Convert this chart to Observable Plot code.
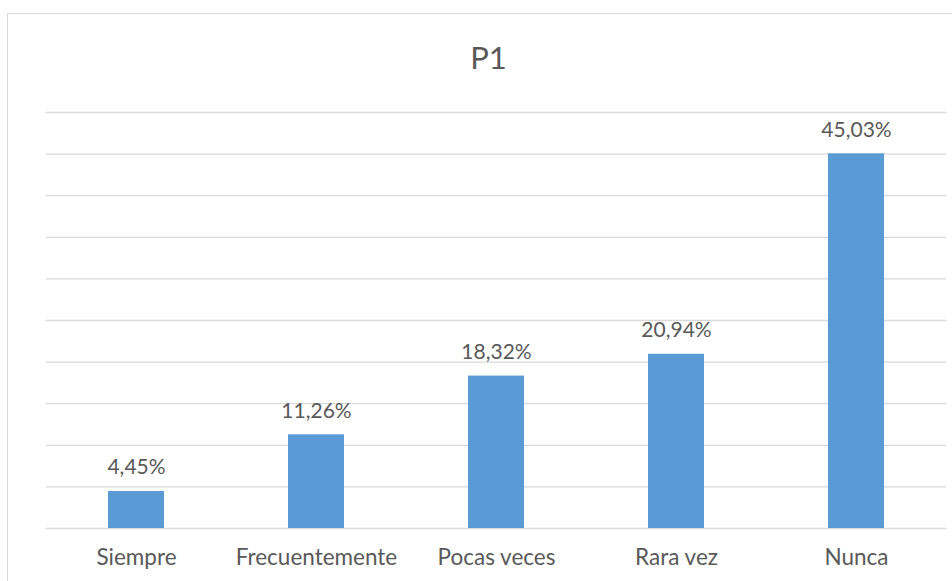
<!DOCTYPE html>
<html>
<head>
<meta charset="utf-8">
<script src="https://cdn.jsdelivr.net/npm/d3@7"></script>
<script src="https://cdn.jsdelivr.net/npm/@observablehq/plot@0.6"></script>
<style>
  html, body { margin: 0; padding: 0; background: #fff; overflow: hidden; }
  #wrap { position: relative; width: 952px; height: 581px; }
  #frame { position: absolute; left: 7px; top: 13px; width: 1000px; height: 1000px;
           border: 1.5px solid #D9D9D9; box-sizing: border-box; }
  #chart { position: absolute; left: 0; top: 0; }
</style>
</head>
<body>
<div id="wrap"><div id="frame"></div><div id="chart"></div></div>
<script>
const title = "P1";
const categories = ["Siempre", "Frecuentemente", "Pocas veces", "Rara vez", "Nunca"];
const values = [4.45, 11.26, 18.32, 20.94, 45.03];
const yTicks = [0, 5, 10, 15, 20, 25, 30, 35, 40, 45, 50];

const data = categories.map((c, i) => ({category: c, value: values[i]}));
const fmt = v => v.toFixed(2).replace(".", ",") + "%";

const font = "Lato, 'Open Sans', sans-serif";
const textColor = "#595959";

const chart = Plot.plot({
  width: 952,
  height: 581,
  marginTop: 112,
  marginBottom: 53,
  marginLeft: 46,
  marginRight: 6,
  style: {fontFamily: font, background: "transparent", color: textColor},
  x: {domain: categories, paddingInner: 0.69, paddingOuter: 0.345, label: null},
  y: {domain: [0, 50], label: null, axis: null},
  marks: [
    Plot.gridY(yTicks, {stroke: "#D9D9D9", strokeOpacity: 1, strokeWidth: 1.3}),
    Plot.barY(data, {x: "category", y: "value", fill: "#5B9BD5"}),
    Plot.text(data, {x: "category", y: "value", text: d => fmt(d.value),
      lineAnchor: "bottom", dy: -17, fontSize: 21, fill: textColor}),
    Plot.axisX({tickSize: 0, tickPadding: 21, fontSize: 22.5, fill: textColor, label: null}),
    Plot.text([title], {frameAnchor: "top", lineAnchor: "bottom", dy: -44, dx: -8,
      fontSize: 31, fill: textColor})
  ]
});
document.getElementById("chart").appendChild(chart);
</script>
</body>
</html>
